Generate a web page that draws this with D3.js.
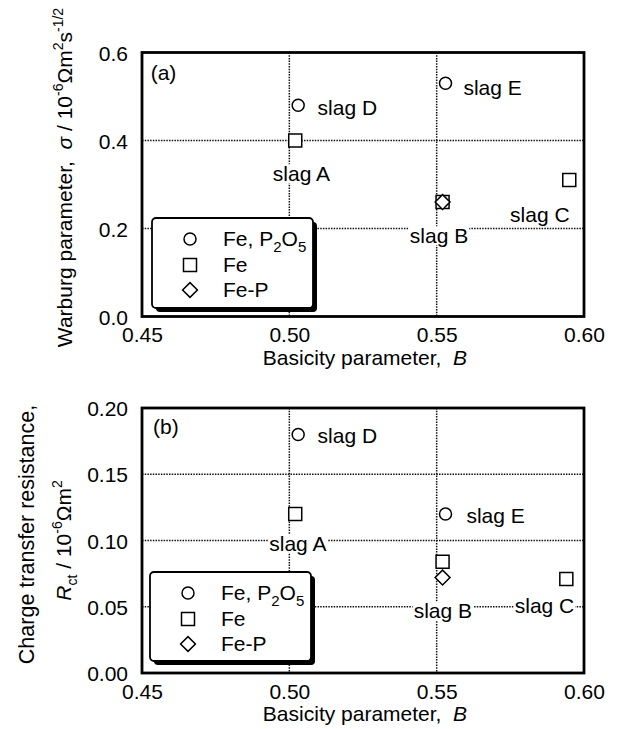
<!DOCTYPE html>
<html><head><meta charset="utf-8">
<script src="https://cdn.jsdelivr.net/npm/d3@7"></script>
<style>
html,body{margin:0;padding:0;background:#fff;}
text{font-family:"Liberation Sans",Arial,Helvetica,sans-serif;fill:#000;}
</style></head>
<body>
<svg id="chart" width="621" height="729"></svg>
<script>
// ---------- data ----------
const xTicks = [0.45, 0.50, 0.55, 0.60];
const xTickLabels = ["0.45", "0.50", "0.55", "0.60"];
const warburgTicks = [0.0, 0.2, 0.4, 0.6];
const warburgTickLabels = ["0.0", "0.2", "0.4", "0.6"];
const rctTicks = [0.00, 0.05, 0.10, 0.15, 0.20];
const rctTickLabels = ["0.00", "0.05", "0.10", "0.15", "0.20"];
const seriesNames = ["Fe, P2O5", "Fe", "Fe-P"];
const seriesSymbols = ["circle", "square", "diamond"];

// panel (a): Warburg parameter
const warburgFeP2O5 = [{slag: "D", B: 0.503, v: 0.48}, {slag: "E", B: 0.553, v: 0.53}];
const warburgFe     = [{slag: "A", B: 0.502, v: 0.40}, {slag: "B", B: 0.552, v: 0.26}, {slag: "C", B: 0.595, v: 0.31}];
const warburgFeP    = [{slag: "B", B: 0.552, v: 0.26}];
// label anchors (data coordinates, label centre)
const warburgLabels = [
  {text: "slag D", B: 0.5197, v: 0.474}, {text: "slag E", B: 0.5690, v: 0.521},
  {text: "slag A", B: 0.5041, v: 0.324}, {text: "slag B", B: 0.5508, v: 0.183},
  {text: "slag C", B: 0.5850, v: 0.231}
];

// panel (b): charge transfer resistance
const rctFeP2O5 = [{slag: "D", B: 0.503, v: 0.180}, {slag: "E", B: 0.553, v: 0.120}];
const rctFe     = [{slag: "A", B: 0.502, v: 0.120}, {slag: "B", B: 0.552, v: 0.084}, {slag: "C", B: 0.594, v: 0.071}];
const rctFeP    = [{slag: "B", B: 0.552, v: 0.072}];
const rctLabels = [
  {text: "slag D", B: 0.5197, v: 0.1789}, {text: "slag E", B: 0.5700, v: 0.1185},
  {text: "slag A", B: 0.5029, v: 0.0974}, {text: "slag B", B: 0.5521, v: 0.0468},
  {text: "slag C", B: 0.5866, v: 0.0506}
];

// ---------- drawing ----------
const svg = d3.select("#chart");
const X0 = 142, X1 = 584;
const x = d3.scaleLinear().domain([0.45, 0.60]).range([X0, X1]);

const symGen = {
  circle: d3.symbol().type(d3.symbolCircle).size(Math.PI * 6 * 6),
  square: d3.symbol().type(d3.symbolSquare).size(13 * 13),
  diamond: d3.symbol().type(d3.symbolSquare).size(10.5 * 10.5)
};
function symPath(kind) { return symGen[kind](); }

function drawPanel(cfg) {
  const g = svg.append("g");
  const y = d3.scaleLinear().domain(cfg.yDomain).range([cfg.bottom, cfg.top]);

  // gridlines (interior ticks)
  g.append("g").selectAll("line.vg").data(xTicks.slice(1, -1)).join("line")
    .attr("x1", d => x(d)).attr("x2", d => x(d)).attr("y1", cfg.top).attr("y2", cfg.bottom)
    .attr("stroke", "#111").attr("stroke-width", 1.5).attr("stroke-dasharray", "1.5,1.2");
  g.append("g").selectAll("line.hg").data(cfg.yTicks.slice(1, -1)).join("line")
    .attr("x1", X0).attr("x2", X1).attr("y1", d => y(d)).attr("y2", d => y(d))
    .attr("stroke", "#111").attr("stroke-width", 1.5).attr("stroke-dasharray", "1.5,1.2");

  // axes (labels only, frame drawn separately)
  const yAxis = d3.axisLeft(y).tickValues(cfg.yTicks).tickFormat((d, i) => cfg.yTickLabels[i]).tickSize(0).tickPadding(14);
  const ya = g.append("g").attr("transform", `translate(${X0},0)`).call(yAxis);
  ya.select(".domain").remove();
  ya.selectAll("text").attr("font-size", 21).attr("font-family", '"Liberation Sans",Arial,sans-serif').attr("dy", "0.36em");

  const xAxis = d3.axisBottom(x).tickValues(xTicks).tickFormat((d, i) => xTickLabels[i]).tickSize(0).tickPadding(11);
  const xa = g.append("g").attr("transform", `translate(0,${cfg.bottom})`).call(xAxis);
  xa.select(".domain").remove();
  xa.selectAll("text").attr("font-size", 21).attr("font-family", '"Liberation Sans",Arial,sans-serif').attr("dy", "0.71em");

  // x title
  const xt = g.append("text").attr("x", (X0 + X1) / 2 + 2).attr("y", cfg.bottom + 48)
    .attr("text-anchor", "middle").attr("font-size", 21);
  xt.append("tspan").text("Basicity parameter,\u00a0\u00a0");
  xt.append("tspan").attr("font-style", "italic").text("B");

  // y title(s)
  cfg.yTitle(g, (cfg.top + cfg.bottom) / 2);

  // labels with white background
  const lg = g.append("g");
  cfg.labels.forEach(l => {
    const t = lg.append("text").attr("x", x(l.B)).attr("y", y(l.v)).attr("dy", "0.35em")
      .attr("text-anchor", "middle").attr("font-size", 21).text(l.text);
    const bb = t.node().getBBox();
    lg.insert("rect", () => t.node()).attr("x", bb.x - 1).attr("y", bb.y + 2)
      .attr("width", bb.width + 2).attr("height", bb.height - 4).attr("fill", "#fff");
  });

  // panel tag
  g.append("text").attr("x", x(cfg.tag.B)).attr("y", y(cfg.tag.v)).attr("dy", "0.35em")
    .attr("text-anchor", "middle").attr("font-size", 21).text(cfg.tag.text);

  // markers
  const series = [cfg.s0, cfg.s1, cfg.s2];
  series.forEach((data, si) => {
    g.append("g").selectAll("path").data(data).join("path")
      .attr("d", symPath(seriesSymbols[si]))
      .attr("transform", d => `translate(${x(d.B)},${y(d.v)})` + (seriesSymbols[si] === "diamond" ? " rotate(45)" : ""))
      .attr("fill", "#fff").attr("stroke", "#000").attr("stroke-width", 1.5);
  });

  // frame
  g.append("rect").attr("x", X0).attr("y", cfg.top).attr("width", X1 - X0).attr("height", cfg.bottom - cfg.top)
    .attr("fill", "none").attr("stroke", "#000").attr("stroke-width", 2.8);

  // legend
  const L = cfg.legend;
  const lgd = g.append("g").attr("transform", `translate(${L.x},${L.y})`);
  lgd.append("rect").attr("x", 4).attr("y", 4).attr("width", L.w).attr("height", L.h).attr("rx", 4).attr("fill", "#000");
  lgd.append("rect").attr("x", 0).attr("y", 0).attr("width", L.w).attr("height", L.h).attr("rx", 4)
    .attr("fill", "#fff").attr("stroke", "#000").attr("stroke-width", 1.8);
  const rowsY = [21, 47, 72];
  seriesNames.forEach((name, i) => {
    lgd.append("path").attr("d", symPath(seriesSymbols[i]))
      .attr("transform", `translate(38,${rowsY[i]})` + (seriesSymbols[i] === "diamond" ? " rotate(45)" : ""))
      .attr("fill", "#fff").attr("stroke", "#000").attr("stroke-width", 1.5);
    const t = lgd.append("text").attr("x", 71).attr("y", rowsY[i] + 7).attr("font-size", 21);
    if (name === "Fe, P2O5") {
      t.append("tspan").text("Fe, P");
      t.append("tspan").attr("font-size", 15).attr("dy", 6).text("2");
      t.append("tspan").attr("dy", -6).text("O");
      t.append("tspan").attr("font-size", 15).attr("dy", 6).text("5");
    } else {
      t.text(name);
    }
  });
}

// panel (a)
drawPanel({
  top: 52.5, bottom: 316.5, yDomain: [0, 0.6],
  yTicks: warburgTicks, yTickLabels: warburgTickLabels,
  s0: warburgFeP2O5, s1: warburgFe, s2: warburgFeP,
  labels: warburgLabels,
  tag: {text: "(a)", B: 0.4573, v: 0.555},
  legend: {x: 152, y: 218, w: 161, h: 90},
  yTitle: (g, cy) => {
    const t = g.append("text").attr("transform", `translate(72,${cy - 7}) rotate(-90)`)
      .attr("text-anchor", "middle").attr("font-size", 21);
    t.append("tspan").text("Warburg parameter,\u00a0\u00a0");
    t.append("tspan").attr("font-style", "italic").text("\u03c3");
    t.append("tspan").text(" / 10");
    t.append("tspan").attr("font-size", 14).attr("dy", -9).text("-6");
    t.append("tspan").attr("dy", 9).text("\u03a9m");
    t.append("tspan").attr("font-size", 14).attr("dy", -9).text("2");
    t.append("tspan").attr("dy", 9).text("s");
    t.append("tspan").attr("font-size", 14).attr("dy", -9).text("-1/2");
  }
});

// panel (b)
drawPanel({
  top: 408, bottom: 673, yDomain: [0, 0.2],
  yTicks: rctTicks, yTickLabels: rctTickLabels,
  s0: rctFeP2O5, s1: rctFe, s2: rctFeP,
  labels: rctLabels,
  tag: {text: "(b)", B: 0.4581, v: 0.1857},
  legend: {x: 150, y: 572, w: 161, h: 89},
  yTitle: (g, cy) => {
    g.append("text").attr("transform", `translate(34,${cy - 6}) rotate(-90)`)
      .attr("text-anchor", "middle").attr("font-size", 21.5).text("Charge transfer resistance,");
    const t = g.append("text").attr("transform", `translate(71,${cy}) rotate(-90)`)
      .attr("text-anchor", "middle").attr("font-size", 21);
    t.append("tspan").attr("font-style", "italic").text("R");
    t.append("tspan").attr("font-size", 14).attr("dy", 6).text("ct");
    t.append("tspan").attr("dy", -6).text(" / 10");
    t.append("tspan").attr("font-size", 14).attr("dy", -9).text("-6");
    t.append("tspan").attr("dy", 9).text("\u03a9m");
    t.append("tspan").attr("font-size", 14).attr("dy", -9).text("2");
  }
});
</script>
</body></html>
